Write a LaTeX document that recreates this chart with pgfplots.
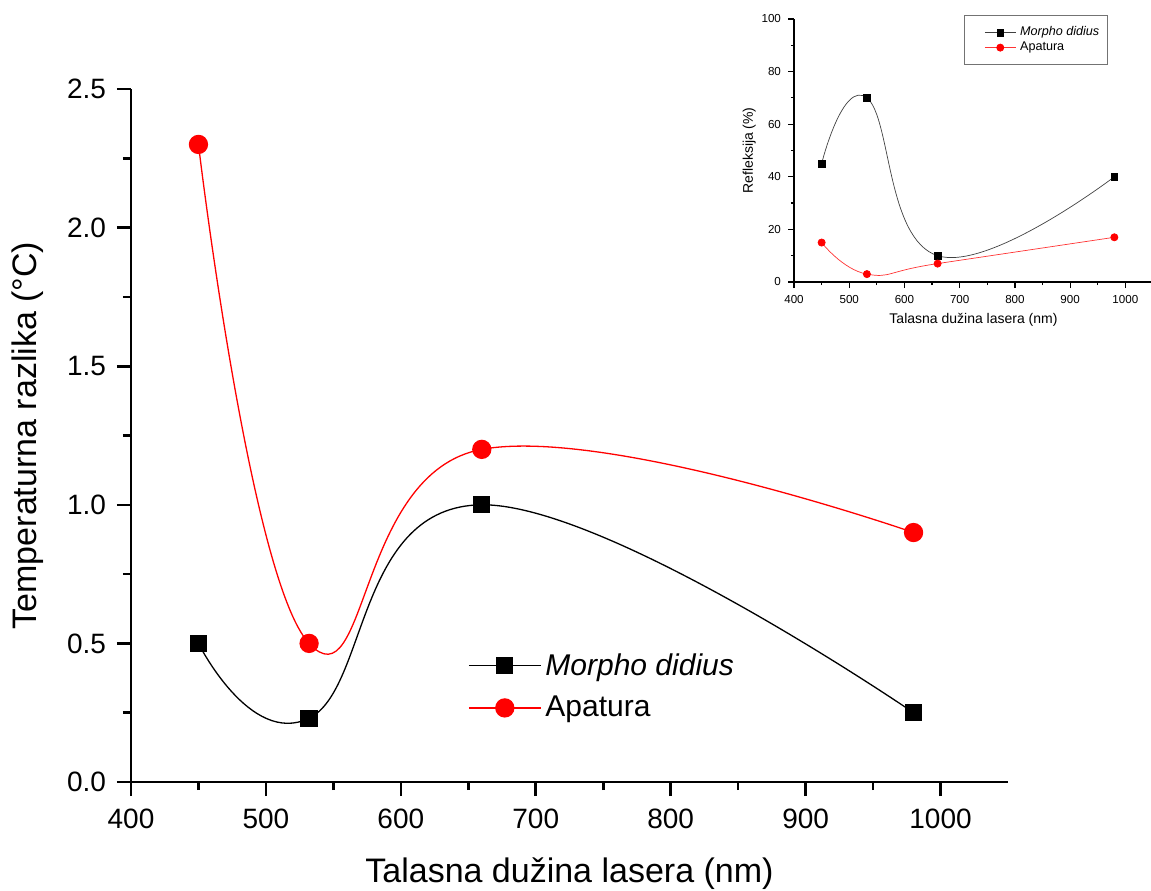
\documentclass[border=0pt]{standalone}
\usepackage{fontspec}
\setmainfont{Liberation Sans}
\usepackage{pgfplots}
\pgfplotsset{compat=1.18}

\begin{document}
\begin{tikzpicture}
% main chart
\begin{axis}[
  at={(0pt,0pt)}, anchor=south west,
  scale only axis, width=438.5pt, height=346.5pt,
  xmin=400, xmax=1050, ymin=0, ymax=2.5,
  axis x line*=bottom, axis y line*=left,
  axis line style={-, line width=1.3pt},
  xtick={400,500,...,1000}, minor x tick num=1,
  ytick={0,0.5,...,2.5}, minor y tick num=1,
  tick align=outside,
  major tick length=7pt, minor tick length=4pt,
  every tick/.style={black, line width=1.3pt},
  /pgf/number format/assume math mode=true,
  /pgf/number format/1000 sep={},
  yticklabel style={xshift=-2pt, /pgf/number format/.cd, fixed, fixed zerofill, precision=1},
  xticklabel style={yshift=-3pt},
  tick label style={font=\fontsize{14}{16}\selectfont},
  label style={font=\fontsize{17}{20}\selectfont},
  xlabel={Talasna dužina lasera (nm)},
  ylabel={Temperaturna razlika (°C)},
  xlabel style={yshift=-7.5pt},
  ylabel style={yshift=5pt},
  legend style={at={(0.384,0.192)}, anchor=north west, draw=none, fill=none,
    font=\fontsize{15}{18}\selectfont, row sep=5pt, inner sep=0pt,
    legend cell align=left},
  legend image code/.code={\draw[mark repeat=2,mark phase=2,#1,sharp plot]
    plot coordinates {(0pt,0pt) (18pt,0pt) (36pt,0pt)};},
]
\addplot[black, line width=0.65pt, smooth, tension=0.75, mark=square*, mark size=4pt,
  mark options={solid, fill=black}] coordinates {
  (450,0.50) (532,0.23) (660,1.00) (980,0.25)
};
\addplot[red, line width=0.65pt, smooth, tension=0.75, mark=*, mark size=4.5pt,
  mark options={solid, fill=red}] coordinates {
  (450,2.30) (532,0.50) (660,1.20) (980,0.90)
};
\legend{\textit{Morpho didius}, Apatura}
\end{axis}

% inset
\begin{axis}[
  at={(331.5pt,250pt)}, anchor=south west,
  scale only axis, width=179.5pt, height=131.5pt,
  xmin=400, xmax=1050, ymin=0, ymax=100,
  axis x line*=bottom, axis y line*=left,
  axis line style={-, line width=0.6pt},
  xtick={400,500,...,1000}, minor x tick num=1,
  ytick={0,20,...,100}, minor y tick num=1,
  tick align=outside,
  major tick length=3pt, minor tick length=1.6pt,
  every tick/.style={black, line width=0.6pt},
  /pgf/number format/assume math mode=true,
  /pgf/number format/1000 sep={},
  tick label style={font=\fontsize{5.8}{7}\selectfont},
  label style={font=\fontsize{7}{8}\selectfont},
  xlabel={Talasna dužina lasera (nm)},
  ylabel={Refleksija (\%)},
  xlabel style={yshift=2pt},
  ylabel style={yshift=-4pt},
  legend style={at={(0.473,1.015)}, anchor=north west, draw=black!55,
    line width=0.6pt, fill=white, font=\fontsize{6.3}{7}\selectfont,
    row sep=-2.5pt, inner xsep=2pt, inner ysep=3.5pt, legend cell align=left},
  legend image code/.code={\path (0pt,0pt);
    \draw[mark repeat=2,mark phase=2,#1,sharp plot]
    plot coordinates {(8pt,0pt) (15.75pt,0pt) (23.5pt,0pt)};},
]
\addplot[black!75, line width=0.35pt, smooth, tension=0.75, mark=square*, mark size=1.7pt,
  mark options={solid, fill=black, draw=black}] coordinates {
  (450,45) (532,70) (660,10) (980,40)
};
\addplot[red!80, line width=0.35pt, smooth, tension=0.75, mark=*, mark size=1.8pt,
  mark options={solid, fill=red, draw=red}] coordinates {
  (450,15) (532,3) (660,7) (980,17)
};
\legend{\textit{Morpho didius}, Apatura}
\end{axis}

\pgfresetboundingbox
\path (-65.5pt,-54pt) rectangle (510pt,391pt);
\end{tikzpicture}
\end{document}
